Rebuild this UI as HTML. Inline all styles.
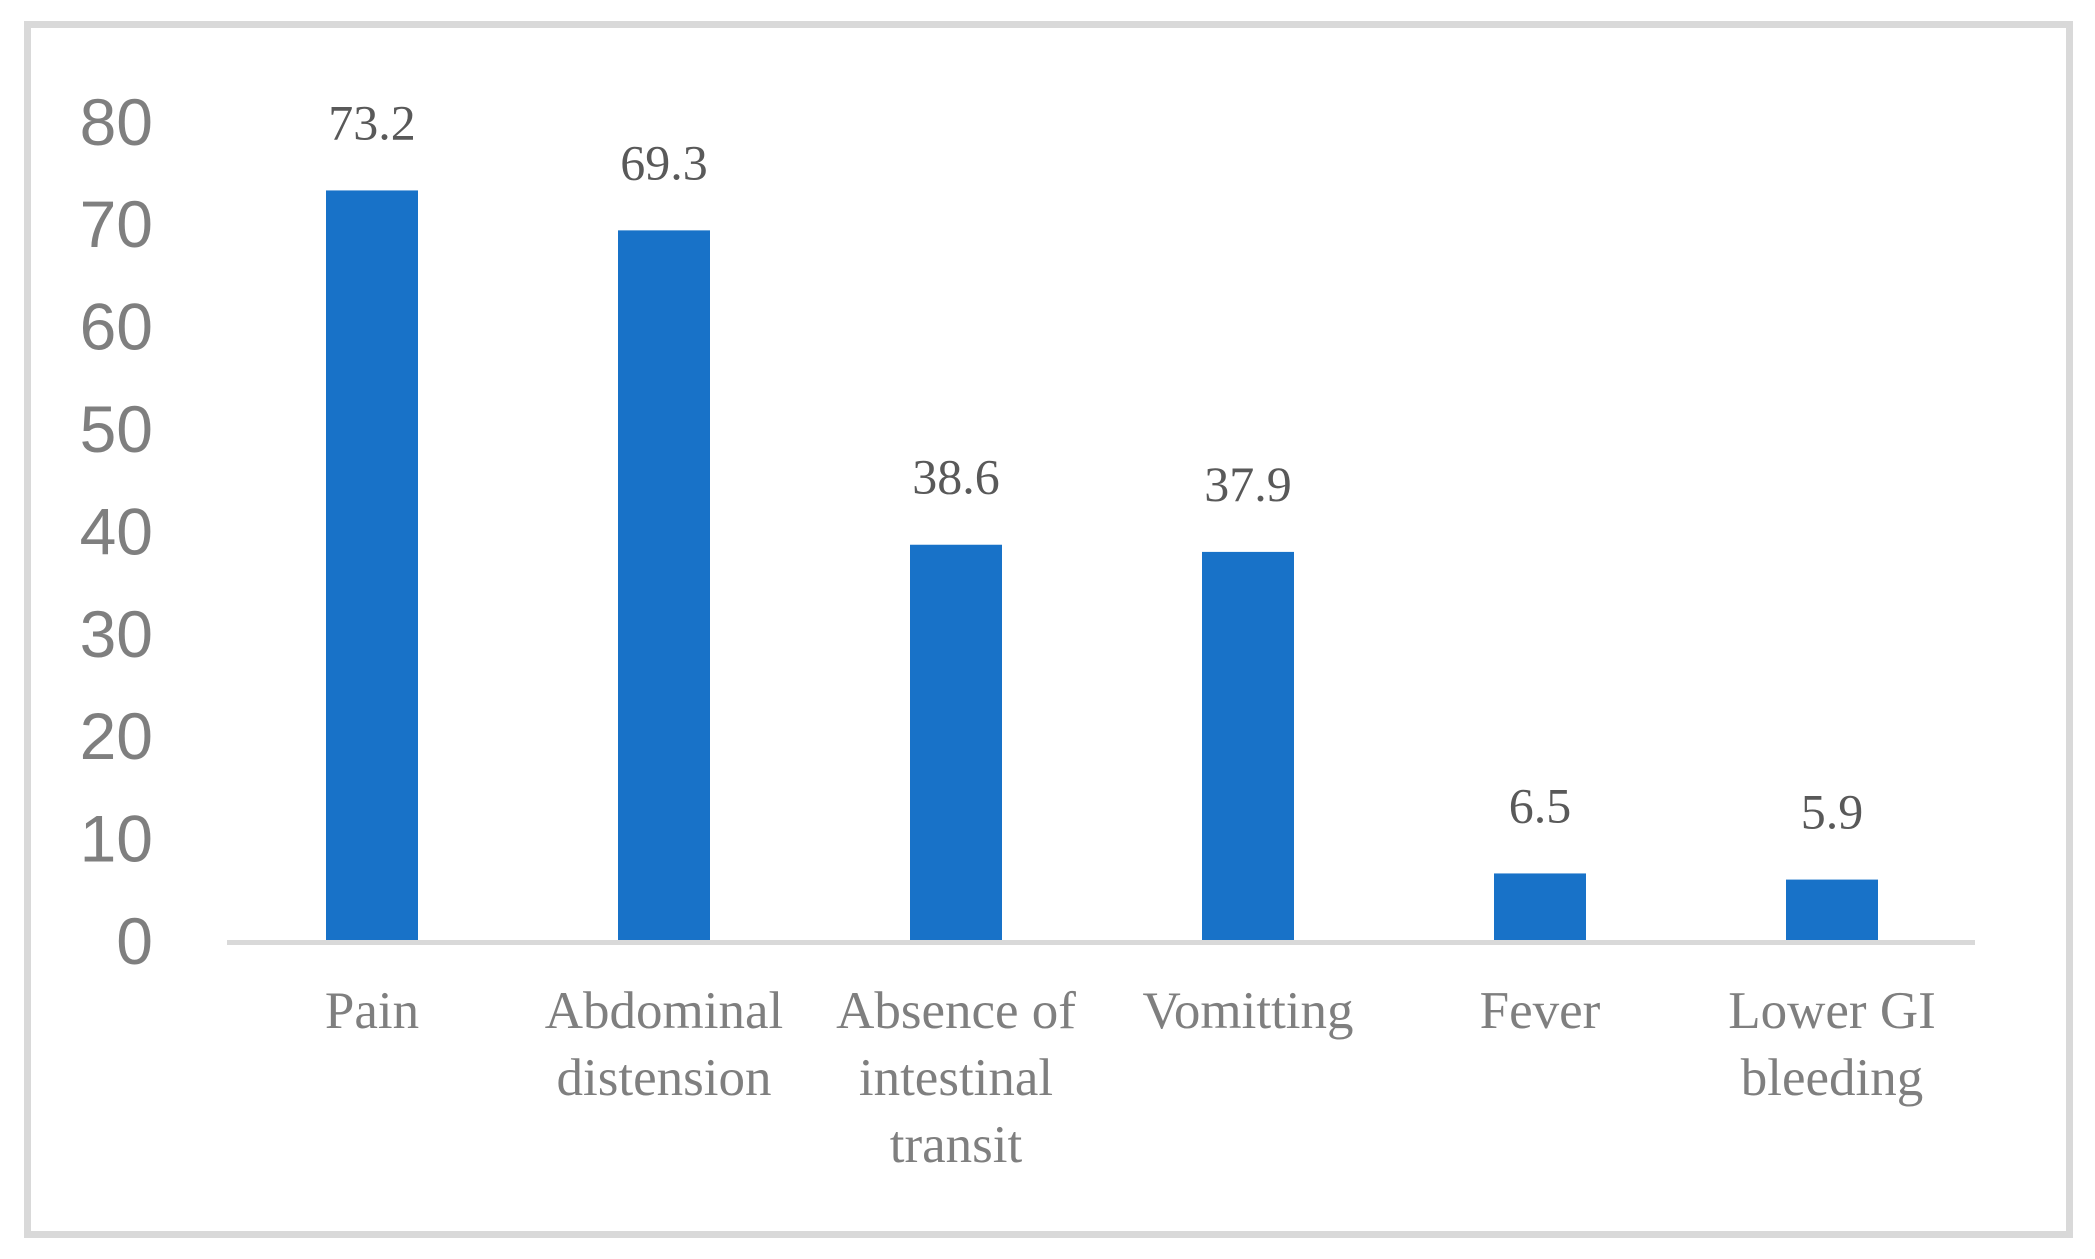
<!DOCTYPE html>
<html><head><meta charset="utf-8"><style>
html,body{margin:0;padding:0;background:#fff;}
svg{display:block;}
</style></head><body>
<svg id="chart" width="2095" height="1259" viewBox="0 0 2095 1259" xmlns="http://www.w3.org/2000/svg">
<rect x="27.5" y="24.5" width="2042" height="1210" fill="#fff" stroke="#d9d9d9" stroke-width="7"/>
<g id="yticks"></g>
<g id="bars"></g>
<line x1="227" y1="942.5" x2="1975" y2="942.5" stroke="#d9d9d9" stroke-width="5"/>
<g id="xlabels"></g>
</svg>
<script>
const categories = [["Pain"],["Abdominal","distension"],["Absence of","intestinal","transit"],["Vomitting"],["Fever"],["Lower GI","bleeding"]];
const values = [73.2, 69.3, 38.6, 37.9, 6.5, 5.9];
const valueLabels = ["73.2","69.3","38.6","37.9","6.5","5.9"];
const yTicks = [0,10,20,30,40,50,60,70,80];

const NS = "http://www.w3.org/2000/svg";
const y0 = 940, unit = 10.24;
function yScale(v){ return y0 - v*unit; }
const x0 = 372, step = 292, barW = 92;
function xScale(i){ return x0 + i*step; }

const yg = document.getElementById('yticks');
yTicks.forEach(t=>{
  const tx = document.createElementNS(NS,'text');
  
  
  tx.setAttribute('x',153);
  tx.setAttribute('y',yScale(t)+24);
  tx.setAttribute('text-anchor','end');
  tx.setAttribute('font-family','"Liberation Sans", sans-serif');
  tx.setAttribute('font-size','66');
  tx.setAttribute('fill','#7f7f7f');
  tx.textContent = t;
  yg.appendChild(tx);
});

const bg = document.getElementById('bars');
const xg = document.getElementById('xlabels');
values.forEach((v,i)=>{
  const cx = xScale(i);
  const r = document.createElementNS(NS,'rect');
  
  
  r.setAttribute('x',cx-barW/2);
  r.setAttribute('y',yScale(v));
  r.setAttribute('width',barW);
  r.setAttribute('height',y0-yScale(v));
  r.setAttribute('fill','#1872c8');
  bg.appendChild(r);
  const vl = document.createElementNS(NS,'text');
  
  
  vl.setAttribute('x',cx);
  vl.setAttribute('y',yScale(v)-51);
  vl.setAttribute('text-anchor','middle');
  vl.setAttribute('font-family','"Liberation Serif", serif');
  vl.setAttribute('font-size','50');
  vl.setAttribute('fill','#595959');
  vl.textContent = valueLabels[i];
  bg.appendChild(vl);
  categories[i].forEach((line,j)=>{
    const c = document.createElementNS(NS,'text');
    
    
    c.setAttribute('x',cx);
    c.setAttribute('y',1028+j*67);
    c.setAttribute('text-anchor','middle');
    c.setAttribute('font-family','"Liberation Serif", serif');
    c.setAttribute('font-size','53');
    c.setAttribute('fill','#7f7f7f');
    c.textContent = line;
    xg.appendChild(c);
  });
});
</script>
</body></html>
